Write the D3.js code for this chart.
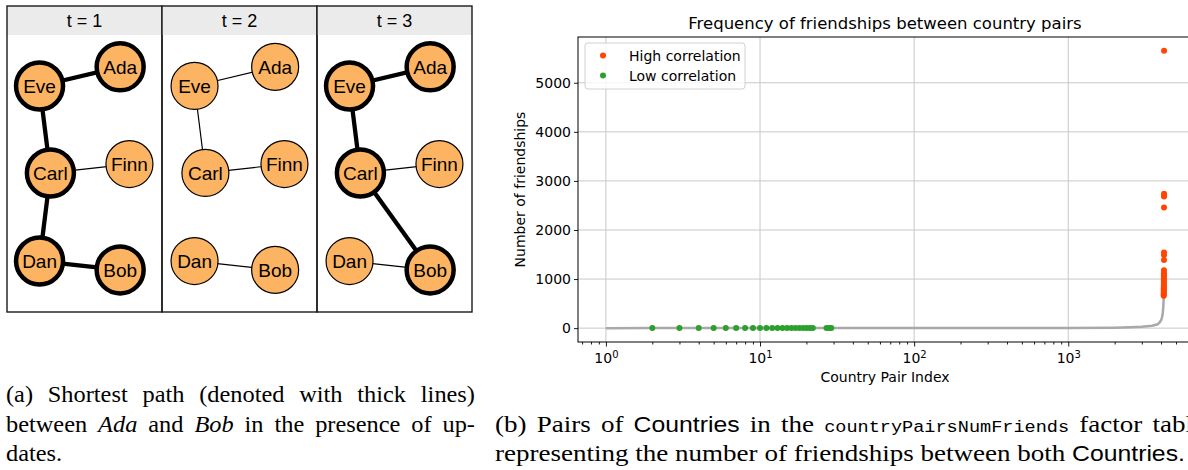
<!DOCTYPE html>
<html>
<head>
<meta charset="utf-8">
<script src="https://cdn.jsdelivr.net/npm/d3@7"></script>
<style>
  body { margin: 0; background: #fff; }
  svg { display: block; }
</style>
</head>
<body>
<div id="root"></div>
<script>
// ---- data: left figure (graph over time) ----
const panelTitles = ['t = 1', 't = 2', 't = 3'];
const nodeNames = ['Ada', 'Eve', 'Carl', 'Finn', 'Dan', 'Bob'];
// node layout in unit coordinates of a panel body
const nodeU = [0.73, 0.21, 0.28, 0.79, 0.21, 0.73];
const nodeV = [0.115, 0.184, 0.498, 0.466, 0.816, 0.848];
const edgesT1 = [['Ada', 'Eve'], ['Eve', 'Carl'], ['Carl', 'Finn'], ['Carl', 'Dan'], ['Dan', 'Bob']];
const edgesT2 = [['Ada', 'Eve'], ['Eve', 'Carl'], ['Carl', 'Finn'], ['Dan', 'Bob']];
const edgesT3 = [['Ada', 'Eve'], ['Eve', 'Carl'], ['Carl', 'Finn'], ['Carl', 'Bob'], ['Dan', 'Bob']];
const shortestPaths = [['Ada', 'Eve', 'Carl', 'Dan', 'Bob'], [], ['Ada', 'Eve', 'Carl', 'Bob']];

// ---- data: right figure (sorted friendship counts per country pair) ----
const pairIdx = [1, 2, 10, 30, 100, 300, 1000, 2000, 2500, 3000, 3500, 3800, 3900, 4000, 4050, 4090, 4120, 4140, 4155, 4162];
const pairVal = [0, 1, 1, 1, 2, 3, 5, 10, 18, 28, 48, 80, 110, 160, 210, 270, 360, 450, 560, 650];
const lowIdx = [2, 3, 4, 5, 6, 7, 8, 9, 10, 11, 12, 13, 14, 15, 16, 17, 18, 19, 20, 21, 22, 27, 28, 29];
const lowVal = [1, 1, 1, 1, 1, 1, 1, 1, 1, 1, 1, 1, 1, 1, 1, 1, 1, 1, 1, 1, 1, 1, 1, 1];
const highIdx = [4163, 4164, 4165, 4166, 4167, 4168, 4169, 4170, 4171, 4172, 4173, 4174,
  4175, 4176, 4177, 4178, 4179, 4180, 4181, 4182, 4183, 4184, 4185, 4186];
const highVal = [660, 680, 700, 730, 760, 790, 820, 850, 880, 920, 960, 1000,
  1040, 1080, 1120, 1180, 1390, 1490, 1540, 2460, 2680, 2710, 2740, 5650];
const yTicks = [0, 1000, 2000, 3000, 4000, 5000];
const xMajor = [1, 10, 100, 1000];
const legendLabels = ['High correlation', 'Low correlation'];

const width = 1188, height = 470;
const svg = d3.select('#root').append('svg')
  .attr('width', width).attr('height', height);

// ================= left: three graph panels =================
const panelX = d3.scaleBand().domain(panelTitles).range([7, 472]);
const boxTop = 6, headBottom = 35, boxBottom = 312;
const u = d3.scaleLinear().domain([0, 1]).range([0, panelX.bandwidth()]);
const v = d3.scaleLinear().domain([0, 1]).range([headBottom, boxBottom]);
const allEdges = [edgesT1, edgesT2, edgesT3];

panelTitles.forEach((title, i) => {
  const g = svg.append('g').attr('transform', 'translate(' + panelX(title) + ',0)');
  const pos = {};
  nodeNames.forEach((n, k) => pos[n] = [u(nodeU[k]), v(nodeV[k])]);
  const path = shortestPaths[i];
  const onPath = (a, b) => {
    const ia = path.indexOf(a), ib = path.indexOf(b);
    return ia >= 0 && ib >= 0 && Math.abs(ia - ib) === 1;
  };

  g.append('rect').attr('x', 0).attr('y', boxTop)
    .attr('width', panelX.bandwidth()).attr('height', headBottom - boxTop)
    .attr('fill', '#ebebeb');
  g.append('text')
    .attr('x', panelX.bandwidth() / 2).attr('y', 27)
    .attr('text-anchor', 'middle')
    .style('font-family', 'Liberation Sans, Arial, sans-serif')
    .style('font-size', '18px')
    .text(title);

  g.selectAll('line.edge').data(allEdges[i]).enter().append('line')
    .attr('x1', d => pos[d[0]][0]).attr('y1', d => pos[d[0]][1])
    .attr('x2', d => pos[d[1]][0]).attr('y2', d => pos[d[1]][1])
    .attr('stroke', '#000')
    .attr('stroke-width', d => onPath(d[0], d[1]) ? 4.3 : 1.2);

  const node = g.selectAll('g.node').data(nodeNames).enter().append('g')
    .attr('transform', d => 'translate(' + pos[d] + ')');
  node.append('circle')
    .attr('r', 23.5)
    .attr('fill', '#fdb462')
    .attr('stroke', '#000')
    .attr('stroke-width', d => path.includes(d) ? 4.5 : 1.2);
  node.append('text')
    .attr('text-anchor', 'middle').attr('dy', '0.35em')
    .style('font-family', 'Liberation Sans, Arial, sans-serif')
    .style('font-size', '19px')
    .text(d => d);

  g.append('rect').attr('x', 0).attr('y', boxTop)
    .attr('width', panelX.bandwidth()).attr('height', boxBottom - boxTop)
    .attr('fill', 'none').attr('stroke', '#1a1a1a').attr('stroke-width', 1.4);
});

// ================= right: scatter on log x =================
const plot = {left: 578, right: 1192, top: 37, bottom: 342};
const allIdx = pairIdx.concat(lowIdx, highIdx);
const allVal = pairVal.concat(lowVal, highVal);
const lx = d3.extent(allIdx).map(Math.log10);
const padX = (lx[1] - lx[0]) * 0.05;
const x = d3.scaleLog()
  .domain([Math.pow(10, lx[0] - padX), Math.pow(10, lx[1] + padX)])
  .range([plot.left, plot.right]);
const ly = d3.extent(allVal);
const padY = (ly[1] - ly[0]) * 0.05;
const y = d3.scaleLinear()
  .domain([ly[0] - padY, ly[1] + padY])
  .range([plot.bottom, plot.top]);

const chart = svg.append('g');
chart.append('defs').append('clipPath').attr('id', 'clip')
  .append('rect').attr('x', plot.left).attr('y', plot.top)
  .attr('width', plot.right - plot.left).attr('height', plot.bottom - plot.top);

// grid
chart.append('g').selectAll('line').data(xMajor).enter().append('line')
  .attr('x1', d => x(d)).attr('x2', d => x(d))
  .attr('y1', plot.top).attr('y2', plot.bottom)
  .attr('stroke', '#c8c8c8').attr('stroke-width', 1);
chart.append('g').selectAll('line').data(yTicks).enter().append('line')
  .attr('x1', plot.left).attr('x2', plot.right)
  .attr('y1', d => y(d)).attr('y2', d => y(d))
  .attr('stroke', '#c8c8c8').attr('stroke-width', 1);

const marks = chart.append('g').attr('clip-path', 'url(#clip)');
marks.append('path')
  .datum(d3.zip(pairIdx, pairVal))
  .attr('fill', 'none').attr('stroke', '#a9a9a9').attr('stroke-width', 2.5)
  .attr('stroke-linejoin', 'round')
  .attr('d', d3.line().x(d => x(d[0])).y(d => y(d[1])));
marks.append('g').selectAll('circle').data(d3.zip(lowIdx, lowVal)).enter().append('circle')
  .attr('cx', d => x(d[0])).attr('cy', d => y(d[1])).attr('r', 3)
  .attr('fill', '#2ca02c');
marks.append('g').selectAll('circle').data(d3.zip(highIdx, highVal)).enter().append('circle')
  .attr('cx', d => x(d[0])).attr('cy', d => y(d[1])).attr('r', 3)
  .attr('fill', '#ff4500');

// axes
const tickFont = 'DejaVu Sans, sans-serif';
chart.append('g')
  .attr('transform', 'translate(' + plot.left + ',0)')
  .call(d3.axisLeft(y).tickValues(yTicks).tickSize(4).tickPadding(3).tickFormat(d3.format('d')));
const minors = x.ticks().filter(d => Math.abs(Math.log10(d) - Math.round(Math.log10(d))) > 1e-9);
chart.append('g')
  .attr('transform', 'translate(0,' + plot.bottom + ')')
  .call(d3.axisBottom(x).tickValues(minors).tickSize(2.5).tickFormat(''));
const xAxis = chart.append('g')
  .attr('transform', 'translate(0,' + plot.bottom + ')')
  .call(d3.axisBottom(x).tickValues(xMajor).tickSize(4.5).tickPadding(4).tickFormat(''));
xAxis.selectAll('.tick text').each(function(d) {
  const t = d3.select(this);
  t.attr('y', 21).attr('dy', null);
  t.append('tspan').text('10');
  t.append('tspan').attr('dy', '-0.5em').style('font-size', '10px').text(Math.round(Math.log10(d)));
});
chart.selectAll('.domain').remove();
chart.selectAll('.tick line').attr('stroke', '#000').attr('stroke-width', 0.9);
chart.selectAll('.tick text')
  .style('font-family', tickFont).style('font-size', '14px').attr('fill', '#000');

chart.append('rect')
  .attr('x', plot.left).attr('y', plot.top)
  .attr('width', plot.right - plot.left).attr('height', plot.bottom - plot.top)
  .attr('fill', 'none').attr('stroke', '#000').attr('stroke-width', 1);

chart.append('text')
  .attr('x', (plot.left + plot.right) / 2).attr('y', 29)
  .attr('text-anchor', 'middle')
  .style('font-family', tickFont).style('font-size', '16.5px')
  .text('Frequency of friendships between country pairs');
chart.append('text')
  .attr('x', (plot.left + plot.right) / 2).attr('y', 382)
  .attr('text-anchor', 'middle')
  .style('font-family', tickFont).style('font-size', '14px')
  .text('Country Pair Index');
chart.append('text')
  .attr('transform', 'translate(525,' + (plot.top + plot.bottom) / 2 + ') rotate(-90)')
  .attr('text-anchor', 'middle')
  .style('font-family', tickFont).style('font-size', '14px')
  .text('Number of friendships');

// legend
const legend = chart.append('g').attr('transform', 'translate(585,43)');
legend.append('rect').attr('width', 160).attr('height', 46).attr('rx', 3)
  .attr('fill', '#fff').attr('fill-opacity', 0.8)
  .attr('stroke', '#d0d0d0').attr('stroke-width', 1);
const legColors = ['#ff4500', '#2ca02c'];
legendLabels.forEach((lab, i) => {
  legend.append('circle').attr('cx', 18).attr('cy', 12.5 + i * 20).attr('r', 3).attr('fill', legColors[i]);
  legend.append('text').attr('x', 44).attr('y', 17.5 + i * 20)
    .style('font-family', tickFont).style('font-size', '14px')
    .text(lab);
});

// ================= captions =================
// lay out one line word by word; justify spreads the gaps to fill w
function setLine(g, words, x0, yPos, w, justify, base) {
  const items = words.map(wd => {
    const o = typeof wd === 'string' ? {t: wd} : wd;
    const t = g.append('text').attr('y', yPos).text(o.t)
      .style('font-family', o.f || base.f)
      .style('font-size', (o.s || base.s) + 'px')
      .style('font-style', o.i ? 'italic' : 'normal');
    return {t, w: t.node().getComputedTextLength()};
  });
  const total = d3.sum(items, d => d.w);
  const gap = justify ? (w - total) / (items.length - 1) : base.s * 0.25;
  let cx = x0;
  items.forEach(d => { d.t.attr('x', cx); cx += d.w + gap; });
  return cx - gap - x0;
}
const serif = {f: 'Liberation Serif, Times New Roman, serif', s: 23};
const sxA = 1.06;
const capA = svg.append('g').attr('transform', 'translate(6,0) scale(' + sxA + ',1)');
setLine(capA, ['(a)', 'Shortest', 'path', '(denoted', 'with', 'thick', 'lines)'], 0, 402, 469 / sxA, true, serif);
setLine(capA, ['between', {t: 'Ada', i: 1}, 'and', {t: 'Bob', i: 1}, 'in', 'the', 'presence', 'of', 'up-'], 0, 432, 469 / sxA, true, serif);
setLine(capA, ['dates.'], 0, 461, 0, false, serif);

const serifB = {f: 'Liberation Serif, Times New Roman, serif', s: 24};
const sansW = {f: 'Liberation Sans, Arial, sans-serif', s: 22};
const capB = svg.append('g');
const line2W = setLine(capB, ['representing', 'the', 'number', 'of', 'friendships', 'between', 'both',
  Object.assign({t: 'Countries.'}, sansW)], 0, 461, 0, false, serifB);
const sx = 690 / line2W;
capB.attr('transform', 'translate(495,0) scale(' + sx + ',1)');
setLine(capB, ['(b)', 'Pairs', 'of', Object.assign({t: 'Countries'}, sansW), 'in', 'the',
  {t: 'countryPairsNumFriends', f: 'Liberation Mono, DejaVu Sans Mono, monospace', s: 16.5},
  'factor', 'table'], 0, 432, 710 / sx, true, serifB);
</script>
</body>
</html>
